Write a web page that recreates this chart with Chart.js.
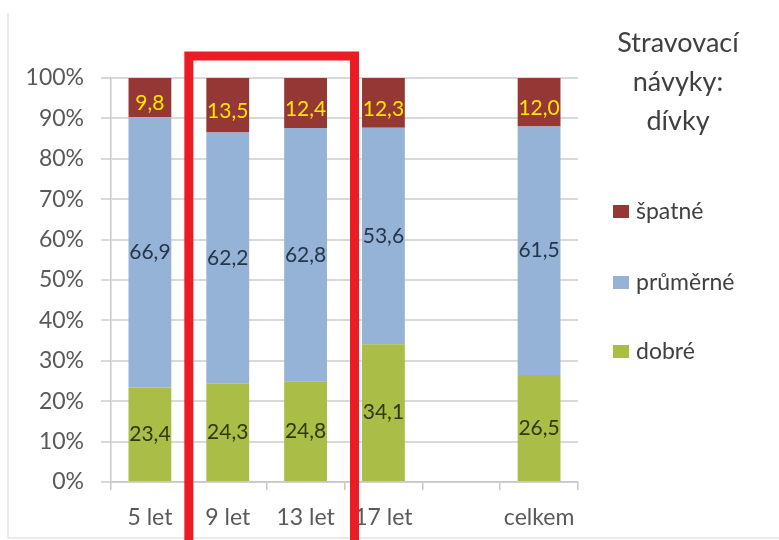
<!DOCTYPE html>
<html>
<head>
<meta charset="utf-8">
<script src="https://cdn.jsdelivr.net/npm/chart.js@4"></script>
<style>
  html, body { margin: 0; padding: 0; background: #fff; }
  #wrap { position: relative; width: 779px; height: 540px; }
</style>
</head>
<body>
<div id="wrap"><canvas id="chart" width="779" height="540"></canvas></div>
<script>
// Chart data
const categories = ['5 let', '9 let', '13 let', '17 let', '', 'celkem'];
const dobre = [23.4, 24.3, 24.8, 34.1, null, 26.5];
const prumerne = [66.9, 62.2, 62.8, 53.6, null, 61.5];
const spatne = [9.8, 13.5, 12.4, 12.3, null, 12.0];
const yTicks = [0, 10, 20, 30, 40, 50, 60, 70, 80, 90, 100];
const titleLines = ['Stravovací', 'návyky:', 'dívky'];

const FONT = 'Lato, "Open Sans", sans-serif';
const colors = { dobre: '#a9bd47', prumerne: '#95b3d7', spatne: '#953735' };

// Data labels in the middle of each segment
const segmentLabels = {
    id: 'segmentLabels',
    afterDatasetsDraw(chart) {
        const ctx = chart.ctx;
        ctx.save();
        ctx.font = '21px ' + FONT;
        ctx.textAlign = 'center';
        ctx.textBaseline = 'middle';
        chart.data.datasets.forEach((ds, i) => {
            const meta = chart.getDatasetMeta(i);
            meta.data.forEach((bar, j) => {
                const v = ds.data[j];
                if (v === null) return;
                const mid = (bar.y + bar.base) / 2 + (ds.labelShift || 0);
                ctx.fillStyle = ds.labelColor;
                ctx.fillText(v.toFixed(1).replace('.', ','), bar.x, mid);
            });
        });
        ctx.restore();
    }
};

// Frame, title, legend and the red highlight box
const extras = {
    id: 'extras',
    beforeDraw(chart) {
        const ctx = chart.ctx;
        ctx.save();
        ctx.strokeStyle = '#e3e3e3';
        ctx.lineWidth = 1.5;
        ctx.beginPath();
        ctx.moveTo(8, 13);
        ctx.lineTo(8, 538);
        ctx.lineTo(779, 538);
        ctx.stroke();
        ctx.restore();
    },
    afterDraw(chart) {
        const ctx = chart.ctx;
        const x = chart.scales.x;
        ctx.save();

        // title
        ctx.fillStyle = '#404040';
        ctx.font = '27px ' + FONT;
        ctx.textAlign = 'center';
        ctx.textBaseline = 'middle';
        titleLines.forEach((t, i) => ctx.fillText(t, 678, 43 + i * 39));

        // legend
        const items = [
            ['špatné', colors.spatne, 212],
            ['průměrné', colors.prumerne, 283],
            ['dobré', colors.dobre, 352]
        ];
        ctx.font = '23px ' + FONT;
        ctx.textAlign = 'left';
        items.forEach(([label, c, y]) => {
            ctx.fillStyle = c;
            ctx.fillRect(613, y - 7, 16, 13);
            ctx.fillStyle = '#404040';
            ctx.fillText(label, 636, y);
        });

        // red highlight rectangle
        const left = (x.getPixelForValue(0) + x.getPixelForValue(1)) / 2;
        const right = (x.getPixelForValue(2) + x.getPixelForValue(3)) / 2 + 10;
        ctx.strokeStyle = '#ec1c24';
        ctx.lineWidth = 9;
        ctx.beginPath();
        ctx.moveTo(left, 560);
        ctx.lineTo(left, 56);
        ctx.lineTo(right, 56);
        ctx.lineTo(right, 560);
        ctx.stroke();
        ctx.restore();
    }
};

const ctx = document.getElementById('chart').getContext('2d');
new Chart(ctx, {
    type: 'bar',
    data: {
        labels: categories,
        datasets: [
            { label: 'dobré', data: dobre, backgroundColor: colors.dobre, labelColor: '#2f3a10' },
            { label: 'průměrné', data: prumerne, backgroundColor: colors.prumerne, labelColor: '#26364a' },
            { label: 'špatné', data: spatne, backgroundColor: colors.spatne, labelColor: '#ffe600', labelShift: 6 }
        ]
    },
    options: {
        responsive: false,
        animation: false,
        layout: { padding: { left: 0, top: 78, right: 201, bottom: 0 } },
        datasets: { bar: { categoryPercentage: 1, barPercentage: 0.55 } },
        plugins: { legend: { display: false }, tooltip: { enabled: false } },
        scales: {
            x: {
                stacked: true,
                afterFit: (s) => { s.height = 58; },
                grid: { drawOnChartArea: false, tickLength: 8, color: '#c8c8c8', lineWidth: 1.5 },
                border: { color: '#c8c8c8', width: 1.5 },
                ticks: { color: '#595959', font: { family: FONT, size: 23 }, padding: 14 }
            },
            y: {
                stacked: true,
                min: 0,
                max: 100,
                afterFit: (s) => { s.width = 111; },
                afterBuildTicks: (s) => { s.ticks = yTicks.map(v => ({ value: v })); },
                grid: { color: '#d9d9d9', lineWidth: 2, tickLength: 10 },
                border: { color: '#c8c8c8', width: 1.5 },
                ticks: {
                    color: '#595959',
                    font: { family: FONT, size: 23 },
                    padding: 17,
                    callback: (v) => v + '%'
                }
            }
        }
    },
    plugins: [segmentLabels, extras]
});
</script>
</body>
</html>
